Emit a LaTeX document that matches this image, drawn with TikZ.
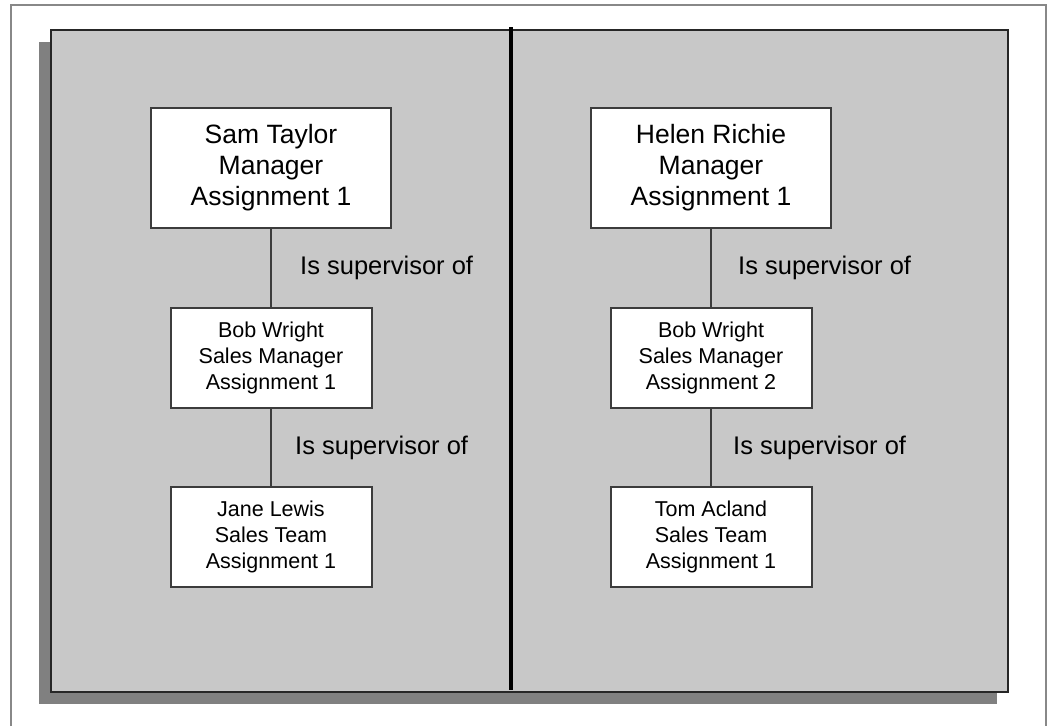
\documentclass[tikz,border=0pt]{standalone}
\usepackage{fontspec}
\setmainfont{Liberation Sans}
\definecolor{panelgray}{RGB}{200,200,200}
\definecolor{shadowgray}{RGB}{128,128,128}
\definecolor{framegray}{RGB}{136,136,136}
\definecolor{boxedge}{RGB}{60,60,60}
\begin{document}
\begin{tikzpicture}[x=1pt,y=-1pt,
  bigbox/.style={draw=boxedge,line width=2pt,fill=white,minimum width=240pt,minimum height=120pt,inner sep=0pt,align=center,font=\fontsize{26.5}{31}\selectfont},
  smallbox/.style={draw=boxedge,line width=2pt,fill=white,minimum width=201pt,minimum height=100pt,inner sep=0pt,align=center,font=\fontsize{21.5}{26}\selectfont},
  rel/.style={anchor=west,inner sep=0pt,font=\fontsize{25.5}{30}\selectfont},
  link/.style={draw=boxedge,line width=2pt}]
\useasboundingbox (0,0) rectangle (1049,726);
% outer frame (open at the bottom)
\draw[framegray,line width=2pt] (11,726) -- (11,5) -- (1046,5) -- (1046,726);
% shadow and panel
\fill[shadowgray] (39,42) rectangle (997,704);
\filldraw[fill=panelgray,draw=black!85,line width=2pt] (51,30) rectangle (1008,692);
% divider
\draw[black,line width=4pt] (511,27) -- (511,690);
% left column
\node[bigbox] (sam) at (271,168) {Sam Taylor\\Manager\\Assignment 1};
\node[smallbox] (bob1) at (271,357.5) {Bob Wright\\Sales Manager\\Assignment 1};
\node[smallbox] (jane) at (271,537) {Jane Lewis\\Sales Team\\Assignment 1};
% right column
\node[bigbox] (helen) at (711,168) {Helen Richie\\Manager\\Assignment 1};
\node[smallbox] (bob2) at (711,357.5) {Bob Wright\\Sales Manager\\Assignment 2};
\node[smallbox] (tom) at (711,537) {Tom Acland\\Sales Team\\Assignment 1};
% connectors
\draw[link] (sam) -- (bob1);
\draw[link] (bob1) -- (jane);
\draw[link] (helen) -- (bob2);
\draw[link] (bob2) -- (tom);
% labels
\node[rel] (l1) at (300,268) {Is supervisor of};
\node[rel] (l2) at (295,448) {Is supervisor of};
\node[rel] (l3) at (738,268) {Is supervisor of};
\node[rel] (l4) at (733,448) {Is supervisor of};
\end{tikzpicture}
\end{document}
